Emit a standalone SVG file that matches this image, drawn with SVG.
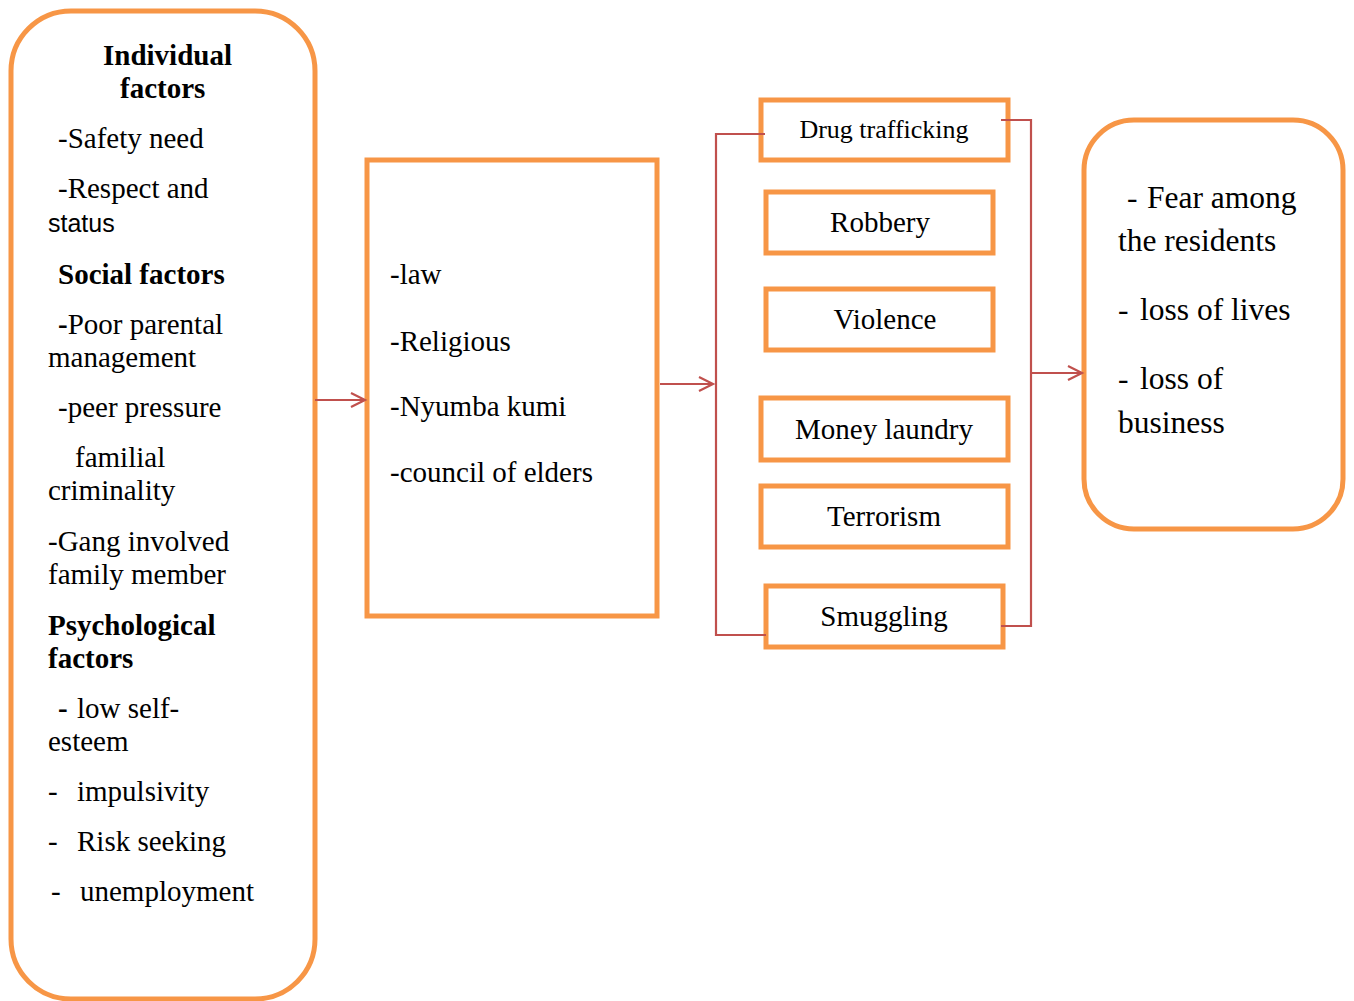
<svg xmlns="http://www.w3.org/2000/svg" width="1354" height="1001" viewBox="0 0 1354 1001">
<style>
.box{fill:#fff;stroke:#F79646;stroke-width:5}
.t{font-family:"Liberation Serif","Times New Roman",serif;font-size:29px;fill:#000}
.b{font-weight:bold}
.s{font-family:"Liberation Sans",Arial,sans-serif;font-size:25px;fill:#000}
.c{text-anchor:middle}
.r{font-size:31.5px}
.ln{fill:none;stroke:#C0504D;stroke-width:2.2}
</style>
<defs>
<marker id="ah" markerWidth="18" markerHeight="18" refX="15" refY="9" orient="auto" markerUnits="userSpaceOnUse">
<path d="M1,2 L15,9 L1,16" fill="none" stroke="#C0504D" stroke-width="2.2"/>
</marker>
</defs>
<rect width="1354" height="1001" fill="#fff"/>
<g id="factors">
<rect class="box" x="11" y="11" width="304" height="988" rx="60"/>
<text class="t b" x="103" y="65">Individual</text>
<text class="t b" x="120" y="98">factors</text>
<text class="t" x="58" y="148">-Safety need</text>
<text class="t" x="58" y="198">-Respect and</text>
<text class="s" x="48" y="232">status</text>
<text class="t b" x="58" y="284">Social factors</text>
<text class="t" x="58" y="334"><tspan class="b">-</tspan>Poor parental</text>
<text class="t" x="48" y="367">management</text>
<text class="t" x="58" y="417">-peer pressure</text>
<text class="t" x="75" y="467">familial</text>
<text class="t" x="48" y="500">criminality</text>
<text class="t" x="48" y="551">-Gang involved</text>
<text class="t" x="48" y="584">family member</text>
<text class="t b" x="48" y="635">Psychological</text>
<text class="t b" x="48" y="668">factors</text>
<text class="t b" x="58" y="718">-</text>
<text class="t" x="77" y="718">low self-</text>
<text class="t" x="48" y="751">esteem</text>
<text class="t" x="48" y="801">-</text>
<text class="t" x="77" y="801">impulsivity</text>
<text class="t" x="48" y="851">-</text>
<text class="t" x="77" y="851">Risk seeking</text>
<text class="t" x="51" y="901">-</text>
<text class="t" x="80" y="901">unemployment</text>
</g>
<g id="controls">
<rect class="box" x="367" y="160" width="290" height="456"/>
<text class="t" x="390" y="284">-law</text>
<text class="t" x="390" y="351">-Religious</text>
<text class="t" x="390" y="416">-Nyumba kumi</text>
<text class="t" x="390" y="482">-council of elders</text>
</g>
<g id="drug">
<rect class="box" x="761" y="100" width="247" height="60"/>
<text class="t c" x="884" y="138" style="font-size:26px">Drug trafficking</text>
</g>
<g id="robbery">
<rect class="box" x="766" y="192" width="227" height="61"/>
<text class="t c" x="880" y="232">Robbery</text>
</g>
<g id="violence">
<rect class="box" x="766" y="289" width="227" height="61"/>
<text class="t c" x="885" y="329">Violence</text>
</g>
<g id="money">
<rect class="box" x="761" y="398" width="247" height="62"/>
<text class="t c" x="884" y="439">Money laundry</text>
</g>
<g id="terrorism">
<rect class="box" x="761" y="486" width="247" height="61"/>
<text class="t c" x="884" y="526">Terrorism</text>
</g>
<g id="smuggling">
<rect class="box" x="766" y="586" width="237" height="61"/>
<text class="t c" x="884" y="626">Smuggling</text>
</g>
<g id="effects">
<rect class="box" x="1084" y="120" width="259" height="409" rx="50"/>
<text class="t r" x="1127" y="208">-</text>
<text class="t r" x="1147" y="208">Fear among</text>
<text class="t r" x="1118" y="251">the residents</text>
<text class="t r" x="1118" y="320">-</text>
<text class="t r" x="1140" y="320">loss of lives</text>
<text class="t r" x="1118" y="389">-</text>
<text class="t r" x="1140" y="389">loss of</text>
<text class="t r" x="1118" y="433">business</text>
</g>
<g id="connectors">
<line class="ln" x1="315" y1="400" x2="365" y2="400" marker-end="url(#ah)"/>
<line class="ln" x1="660" y1="384" x2="713" y2="384" marker-end="url(#ah)"/>
<polyline class="ln" points="765,134 716,134 716,635 766,635"/>
<polyline class="ln" points="1001,120 1031,120 1031,626 1001,626"/>
<line class="ln" x1="1031" y1="373" x2="1082" y2="373" marker-end="url(#ah)"/>
</g>
</svg>
